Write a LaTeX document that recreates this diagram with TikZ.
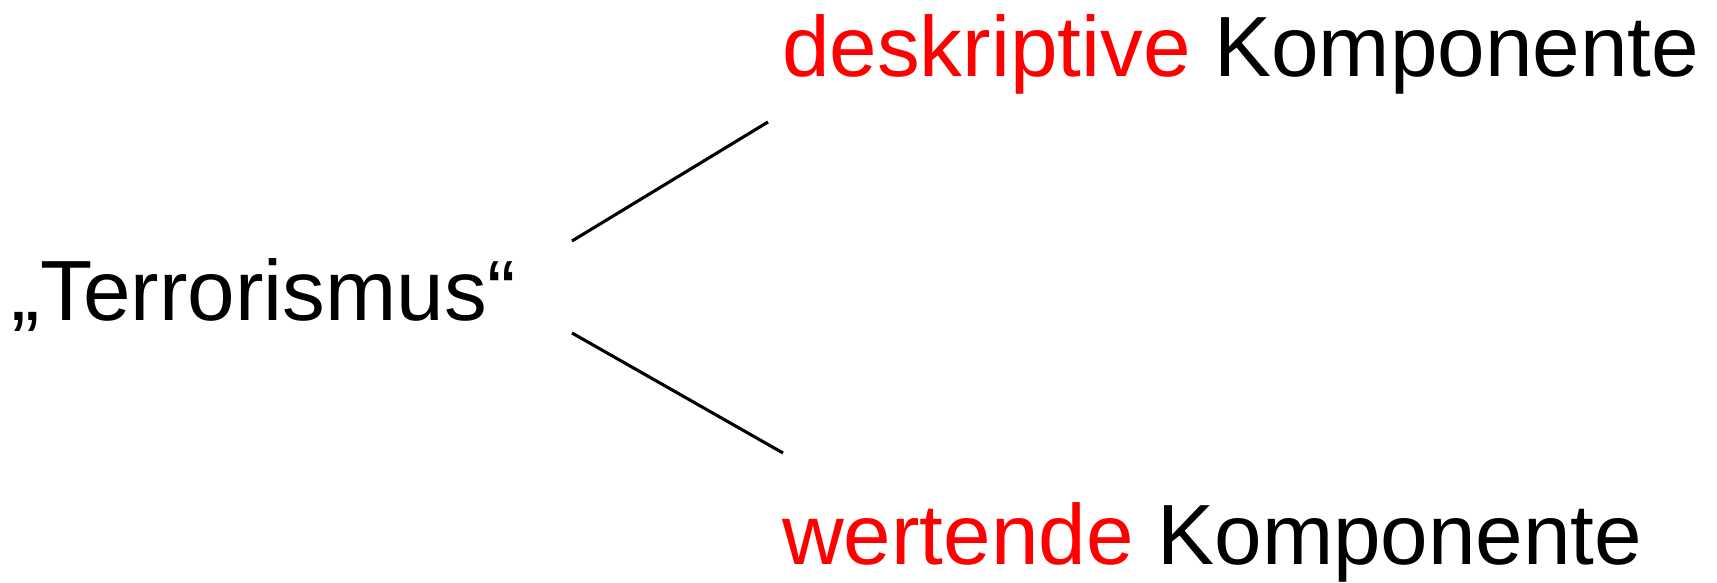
\documentclass[tikz,border=0pt]{standalone}
\usepackage{fontspec}
\setmainfont{Liberation Sans}
\definecolor{kred}{RGB}{255,0,0}
\tikzset{
  lbl/.style={anchor=base west, inner sep=0pt, outer sep=0pt, font=\fontsize{85.5}{100}\selectfont},
  conn/.style={line width=3.1pt, black}
}
\begin{document}
\begin{tikzpicture}[x=1pt,y=1pt]
\useasboundingbox (0,0) rectangle (1717,583);
\node[lbl] (term) at (12,262) {„Terrorismus“};
\node[lbl] (desk) at (782,506) {\textcolor{kred}{deskriptive} Komponente};
\node[lbl] (wert) at (782,18) {\textcolor{kred}{wertende} Komponente};
\coordinate (u1) at (572,342);
\coordinate (u2) at (768,461);
\coordinate (l1) at (572,250);
\coordinate (l2) at (783,130);
\draw[conn] (u1) -- (u2);
\draw[conn] (l1) -- (l2);
\end{tikzpicture}
\end{document}
